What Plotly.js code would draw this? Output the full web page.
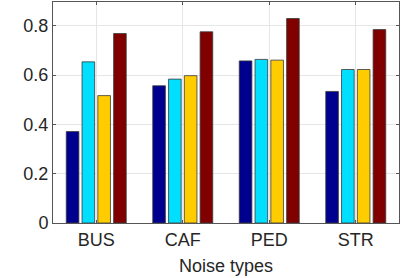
<!DOCTYPE html>
<html><head><meta charset="utf-8">
<script src="https://cdn.plot.ly/plotly-3.0.1.min.js"></script>
<style>html,body{margin:0;padding:0;background:#fff}#c{width:407px;height:278px}</style>
</head><body><div id="c"></div>
<script>
const categories = ["BUS", "CAF", "PED", "STR"];
const series1 = [0.371, 0.557, 0.658, 0.534];
const series2 = [0.654, 0.584, 0.664, 0.623];
const series3 = [0.517, 0.598, 0.661, 0.623];
const series4 = [0.769, 0.776, 0.830, 0.785];
const colors = ["#00008F", "#00DFFF", "#FFCC00", "#800000"];
const yTicks = [0, 0.2, 0.4, 0.6, 0.8];
const yTickText = ["0", "0.2", "0.4", "0.6", "0.8"];

const all = [series1, series2, series3, series4];
const xs = categories.map((c, i) => i + 1);
const traces = all.map((s, k) => ({
  type: "bar", x: xs, y: s, name: "S" + (k + 1),
  marker: {color: colors[k], line: {color: "#3a3a3a", width: 0.8}},
  hoverinfo: "none"
}));
const font = {family: "Liberation Sans, Arial, sans-serif", size: 18, color: "#262626"};
const layout = {
  width: 407, height: 278,
  margin: {l: 53, r: 8, t: 2, b: 55},
  barmode: "group", bargap: 0.27, bargroupgap: 0.2,
  showlegend: false,
  paper_bgcolor: "#fff", plot_bgcolor: "#fff",
  font: font,
  xaxis: {
    range: [0.5, 4.5], tickvals: xs, ticktext: categories,
    showgrid: true, gridcolor: "#e6e6e6", zeroline: false,
    showline: true, linecolor: "#555", linewidth: 1, mirror: "ticks",
    ticks: "inside", ticklen: 3, tickcolor: "#555",
    tickfont: font,
    title: {text: "Noise types", font: font, standoff: 10}
  },
  yaxis: {
    range: [0, 0.897], tickvals: yTicks, ticktext: yTickText,
    showgrid: true, gridcolor: "#e6e6e6", zeroline: false,
    showline: true, linecolor: "#555", linewidth: 1, mirror: "ticks",
    ticks: "inside", ticklen: 3, tickcolor: "#555",
    tickfont: font
  }
};
Plotly.newPlot("c", traces, layout, {staticPlot: true, displayModeBar: false});
</script></body></html>
